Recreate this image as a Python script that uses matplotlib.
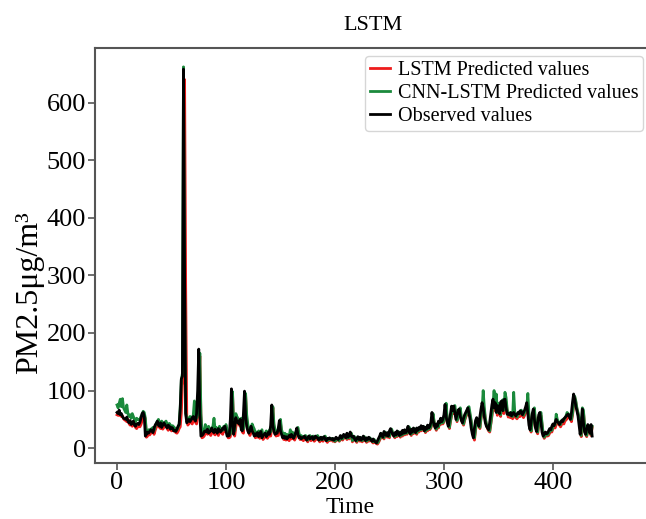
import numpy as np
import matplotlib
matplotlib.use("Agg")
import matplotlib.pyplot as plt

plt.rcParams['font.family'] = ['Liberation Serif', 'DejaVu Serif']

##############################################
# Data (one value per time step, 0..436)
observed = [
    62, 60, 66, 58, 60, 55, 52, 51, 50, 54, 47, 44, 48, 41, 45, 47, 40, 38, 42, 43, 41, 45,
    52, 60, 62, 55, 21, 24, 28, 26, 29, 32, 30, 27, 35, 40, 43, 47, 40, 38, 44, 36, 40,
    44, 41, 38, 35, 40, 38, 33, 36, 35, 30, 31, 29, 33, 38, 41, 68, 120, 125, 658, 300, 60, 44,
    47, 50, 46, 49, 53, 55, 50, 47, 60, 100, 172, 60, 21, 22, 24, 29, 30, 28, 33, 26, 28, 31,
    35, 29, 27, 33, 30, 26, 34, 31, 28, 31, 35, 33, 38, 30, 21, 21, 22, 50, 103, 40, 24,
    40, 53, 45, 47, 42, 50, 32, 30, 60, 99, 55, 38, 30, 26, 31, 38, 30, 26, 21, 25, 22, 27,
    20, 24, 29, 18, 22, 24, 26, 20, 23, 28, 24, 40, 75, 40, 29, 24, 26, 26, 35, 48, 30,
    24, 18, 21, 17, 20, 16, 19, 22, 19, 24, 20, 17, 22, 28, 35, 24, 18, 20, 16, 18, 19, 21,
    17, 14, 19, 21, 16, 18, 20, 15, 17, 21, 19, 18, 14, 16, 19, 15, 18, 20, 16, 13, 17,
    16, 18, 16, 15, 17, 14, 16, 19, 17, 15, 18, 22, 17, 20, 24, 21, 18, 26, 19, 22, 28, 21,
    19, 21, 16, 13,
    17, 20, 15, 19, 14, 17, 21, 16, 13, 18, 15, 19, 17, 14, 12, 16, 13, 11, 9, 13,
    17, 21, 26, 22, 19, 29, 25, 22, 27, 21, 30, 34, 28, 24, 21, 27, 23, 30, 26, 22,
    28, 24, 31, 26, 32, 27, 30, 38, 29, 25, 33, 28, 35, 30, 27, 35, 31, 36, 33, 39,
    34, 38, 30, 36, 33, 40, 35, 38, 45, 62, 48, 40, 35, 42, 38, 47, 44, 52, 46, 50,
    58, 76, 55, 45, 38, 50, 60, 73, 65, 73, 62, 50, 58, 66, 68, 55, 48, 44, 52, 58,
    62, 66, 70, 60, 50, 35, 25, 18, 35, 48, 53, 45, 38, 55, 68, 79, 70, 55, 44, 38,
    35, 32, 45, 60, 75, 85, 70, 79, 62, 74, 73, 60, 80, 82, 65, 84, 85, 70, 59, 60,
    58, 62, 56, 60, 62, 58, 56, 59, 62, 60, 65, 63, 58, 62, 66, 72, 79, 60, 40, 32,
    45, 60, 68, 50, 35, 29, 45, 58, 62, 45, 28, 21, 24, 28, 25, 26, 30, 34, 32, 38,
    42, 39, 45, 50, 46, 44, 41, 45, 48, 46, 51, 53, 55, 58, 59, 55, 50, 62, 80, 94,
    85, 73, 65, 56, 40, 24, 42, 68, 45, 28, 24, 33, 41, 35, 26, 41, 21,
]

lstm_pred = [
    58, 57, 57, 60, 55, 56, 51, 49, 48, 46, 50, 43, 40, 44, 38, 41, 43, 36, 34, 37, 38, 37,
    41, 47, 55, 57, 50, 19, 21, 25, 23, 26, 27, 29, 24, 31, 36, 39, 43, 36, 34, 40, 33,
    36, 38, 40, 34, 31, 36, 34, 30, 32, 31, 29, 27, 26, 29, 34, 37, 60, 110, 118, 640, 280, 55,
    40, 43, 46, 44, 42, 48, 50, 45, 42, 54, 92, 160, 55, 18, 19, 21, 26, 27, 24, 29, 25, 22,
    27, 31, 25, 23, 29, 27, 22, 30, 27, 26, 24, 31, 29, 34, 26, 18, 18, 20, 45, 95, 36,
    21, 36, 48, 44, 41, 38, 46, 28, 26, 55, 92, 50, 34, 26, 22, 27, 34, 30, 26, 18, 21, 19,
    23, 17, 21, 25, 15, 18, 19, 23, 17, 20, 25, 21, 36, 70, 36, 25, 21, 23, 22, 31, 44,
    26, 20, 15, 18, 14, 17, 15, 13, 19, 16, 21, 17, 14, 19, 25, 31, 21, 15, 17, 15, 13, 16,
    18, 14, 11, 16, 18, 13, 15, 17, 12, 14, 16, 18, 15, 11, 13, 16, 12, 15, 17, 13, 10,
    14, 13, 14, 15, 12, 14, 11, 13, 16, 14, 12, 15, 19, 14, 17, 19, 21, 15, 23, 16, 19, 25,
    11, 16, 18, 13,
    10, 14, 17, 12, 16, 11, 14, 18, 13, 10, 15, 12, 16, 14, 11, 9, 13, 10, 8, 7,
    10, 14, 18, 23, 19, 16, 26, 22, 19, 24, 18, 27, 31, 25, 21, 18, 24, 20, 27, 23,
    19, 25, 21, 28, 23, 29, 24, 27, 35, 26, 22, 30, 25, 32, 27, 24, 32, 28, 33, 30,
    36, 31, 35, 27, 33, 30, 37, 32, 35, 42, 58, 44, 36, 31, 39, 35, 44, 41, 48, 42,
    46, 54, 70, 50, 41, 34, 46, 56, 68, 60, 68, 57, 46, 54, 62, 64, 50, 44, 40, 48,
    54, 58, 62, 66, 56, 45, 31, 20, 14, 31, 44, 49, 41, 34, 51, 63, 74, 65, 50, 40,
    34, 30, 28, 41, 55, 70, 80, 65, 74, 57, 69, 68, 55, 75, 77, 60, 79, 80, 64, 54,
    55, 53, 57, 51, 55, 57, 53, 51, 54, 57, 55, 60, 58, 53, 57, 61, 67, 74, 55, 35,
    28, 41, 55, 63, 45, 30, 25, 40, 53, 57, 40, 24, 17, 20, 24, 21, 22, 26, 30, 28,
    34, 38, 35, 41, 46, 42, 40, 37, 41, 44, 42, 47, 49, 51, 54, 55, 51, 46, 57, 75,
    88, 80, 68, 60, 51, 35, 20, 38, 63, 40, 24, 20, 29, 37, 31, 22, 36,
]

cnn_lstm_pred = [
    75, 70, 78, 85, 72, 86, 70, 66, 62, 75, 60, 55, 58, 52, 60, 55, 50, 46, 52, 50, 49, 50,
    55, 58, 64, 62, 52, 26, 28, 32, 30, 33, 34, 36, 31, 38, 43, 46, 50, 44, 42, 47, 40,
    43, 45, 47, 42, 38, 43, 40, 36, 39, 37, 35, 33, 32, 36, 42, 72, 118, 130, 662, 290, 62, 50,
    50, 52, 55, 53, 51, 58, 82, 60, 52, 58, 95, 165, 60, 28, 26, 30, 41, 36, 33, 38, 34, 30,
    34, 38, 52, 32, 36, 34, 30, 38, 34, 33, 31, 38, 36, 41, 33, 24, 23, 25, 48, 98, 42,
    30, 60, 55, 52, 50, 46, 52, 36, 33, 58, 95, 58, 42, 33, 30, 35, 42, 37, 33, 25, 28, 26,
    30, 24, 28, 32, 22, 24, 26, 30, 24, 27, 32, 28, 40, 72, 42, 32, 28, 30, 30, 38, 50,
    32, 26, 22, 26, 22, 24, 22, 20, 32, 24, 28, 24, 20, 25, 30, 36, 26, 20, 22, 20, 18, 20,
    22, 18, 14, 19, 22, 17, 18, 21, 16, 18, 20, 22, 19, 14, 16, 19, 15, 18, 21, 16, 13,
    16, 15, 16, 17, 14, 16, 12, 14, 17, 15, 13, 16, 21, 16, 19, 21, 23, 17, 24, 18, 21, 26,
    13, 18, 20, 15,
    12, 16, 19, 14, 18, 13, 16, 20, 15, 12, 17, 14, 18, 16, 13, 11, 15, 12, 10, 9,
    12, 16, 20, 25, 21, 18, 28, 24, 21, 26, 20, 29, 33, 27, 23, 20, 26, 22, 29, 25,
    21, 27, 23, 30, 25, 31, 26, 29, 37, 28, 24, 32, 27, 34, 29, 26, 34, 30, 35, 32,
    38, 33, 37, 29, 35, 32, 39, 34, 37, 44, 60, 46, 38, 33, 41, 37, 46, 43, 50, 44,
    48, 56, 78, 52, 43, 36, 48, 58, 72, 64, 74, 60, 48, 56, 64, 70, 54, 46, 42, 50,
    56, 62, 70, 72, 60, 48, 30, 22, 18, 33, 46, 51, 43, 36, 53, 67, 100, 72, 52, 42,
    36, 32, 30, 43, 58, 76, 100, 70, 94, 62, 78, 74, 58, 80, 84, 66, 97, 88, 68, 58,
    60, 56, 62, 55, 97, 62, 57, 54, 58, 63, 60, 66, 62, 57, 62, 66, 72, 95, 60, 37,
    30, 44, 58, 70, 48, 32, 28, 42, 56, 62, 44, 26, 19, 22, 26, 23, 25, 29, 33, 31,
    37, 41, 40, 59, 50, 46, 44, 41, 46, 50, 48, 52, 56, 62, 60, 58, 54, 50, 60, 78,
    90, 82, 70, 62, 53, 38, 22, 70, 66, 42, 26, 22, 31, 39, 33, 24, 38,
]

time = np.arange(len(observed))

##############################################
# Plot
fig = plt.figure(figsize=(6.46, 5.19), dpi=100)
# the original picture is cut a little on the right, so the axes run past the edge
ax = fig.add_axes([95/646, 56/519, 556/646, 415/519])

ax.plot(time, lstm_pred, color='#ee1c1c', lw=2, label='LSTM Predicted values')
ax.plot(time, cnn_lstm_pred, color='#1b8a3c', lw=2, label='CNN-LSTM Predicted values')
ax.plot(time, observed, color='black', lw=2, label='Observed values')

ax.set_xlim(-20.2, 490)
ax.set_title('LSTM', fontsize=16, pad=13)
ax.set_xlabel('Time', fontsize=17)
ax.xaxis.set_label_coords(0.459, -0.083)
ax.set_ylabel('PM2.5μg/m³', fontsize=23)
ax.yaxis.set_label_coords(-0.091, 0.41)
ax.set_xticks([0, 100, 200, 300, 400])
ax.set_yticks([0, 100, 200, 300, 400, 500, 600])
ax.tick_params(labelsize=19, color='#555555', length=5, width=1.2, pad=1.5)
for s in ax.spines.values():
    s.set_color('#555555')
    s.set_linewidth(1.5)

ax.legend(loc='upper right', bbox_to_anchor=(0.996, 0.892), bbox_transform=fig.transFigure,
          fontsize=14.5, handlelength=1.0, handletextpad=0.4, labelspacing=0.2,
          borderpad=0.25, borderaxespad=0)

fig.savefig('out.png', dpi=100)
